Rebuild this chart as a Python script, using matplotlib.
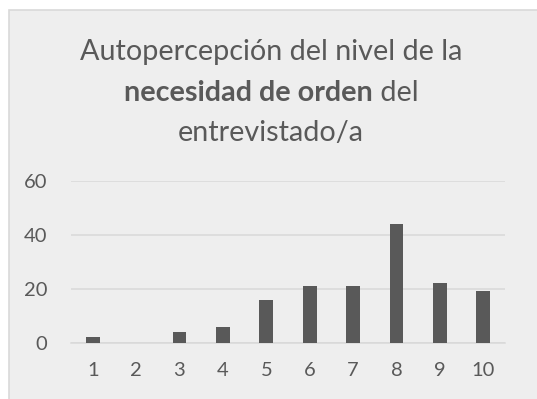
import matplotlib
matplotlib.use('Agg')
import matplotlib.pyplot as plt
from matplotlib.patches import Rectangle

plt.rcParams['font.family'] = ['Lato', 'DejaVu Sans']

niveles = ['1', '2', '3', '4', '5', '6', '7', '8', '9', '10']
frecuencias = [2, 0, 4, 6, 16, 21, 21, 44, 22, 19]
ticks_y = [0, 20, 40, 60]

gris_texto = '#595959'
gris_barra = '#595959'
gris_linea = '#D9D9D9'
fondo = '#EEEEEE'

fig = plt.figure(figsize=(5.37, 3.99), dpi=100, facecolor='white')

# fondo del área del gráfico con borde
fig.patches.append(Rectangle((9 / 537, -0.05), 1.0, (399 - 10) / 399 + 0.05,
                             transform=fig.transFigure, facecolor=fondo,
                             edgecolor=gris_linea, linewidth=1.2, zorder=-1))

ax = fig.add_axes([71 / 537, (399 - 342.7) / 399, 434 / 537, 161.7 / 399])
ax.set_zorder(2)
ax.set_facecolor('none')
x = range(len(niveles))
ax.bar(x, frecuencias, width=0.32, color=gris_barra, zorder=3)
ax.set_xlim(-0.5, len(niveles) - 0.5)
ax.set_ylim(0, 60)
ax.set_yticks(ticks_y)
ax.set_xticks(list(x))
ax.set_xticklabels(niveles)
ax.tick_params(axis='both', length=0, labelsize=14.5, colors=gris_texto)
ax.tick_params(axis='y', pad=17)
ax.tick_params(axis='x', pad=14)
ax.grid(axis='y', color=gris_linea, linewidth=1.1, zorder=0)
ax.set_axisbelow(True)
for s in ['top', 'right', 'left']:
    ax.spines[s].set_visible(False)
ax.spines['bottom'].set_color(gris_linea)
ax.spines['bottom'].set_linewidth(1.1)

# título en tres líneas, con parte en negrita
cx = 271 / 537
tam = 20.7
fig.text(cx, 1 - 52 / 399, 'Autopercepción del nivel de la', ha='center', va='center',
         fontsize=tam, color=gris_texto)
fig.text(cx, 1 - 133 / 399, 'entrevistado/a', ha='center', va='center',
         fontsize=tam, color=gris_texto)
t1 = fig.text(0, 1 - 93 / 399, 'necesidad de orden', ha='left', va='center',
              fontsize=tam, fontweight='bold', color=gris_texto)
t2 = fig.text(0, 1 - 93 / 399, ' del', ha='left', va='center',
              fontsize=tam, color=gris_texto)
r = fig.canvas.get_renderer()
w1 = t1.get_window_extent(r).width / fig.bbox.width
w2 = t2.get_window_extent(r).width / fig.bbox.width
x0 = cx - (w1 + w2) / 2
t1.set_x(x0)
t2.set_x(x0 + w1)

fig.savefig('out.png', dpi=100, facecolor='white')
